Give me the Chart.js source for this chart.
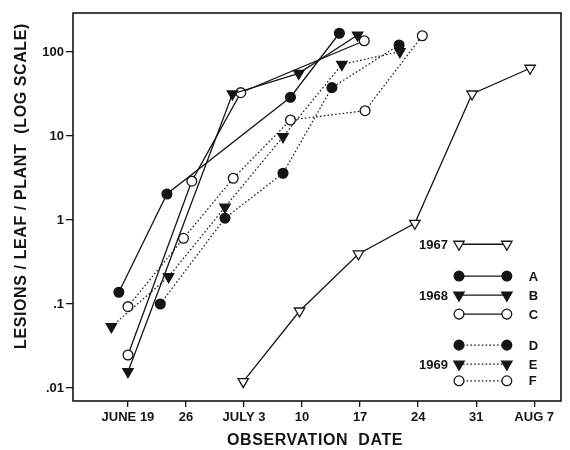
<!DOCTYPE html>
<html><head><meta charset="utf-8">
<script src="https://cdn.jsdelivr.net/npm/chart.js"></script>
<style>html,body{margin:0;padding:0;background:#fff}#wrap{width:570px;height:450px}</style>
</head><body><div id="wrap"><canvas id="c" width="570" height="450"></canvas></div>
<script>
// ---- data (x = day counted from May 31, so June 19 = 19, July 3 = 33 ...) ----
const tickDays = [19, 26, 33, 40, 47, 54, 61, 68];
const tickLabels = ['JUNE 19', '26', 'JULY 3', '10', '17', '24', '31', 'AUG 7'];
const yTickValues = [0.01, 0.1, 1, 10, 100];
const yTickLabels = ['.01', '.1', '1', '10', '100'];

const days1967 = [32.9, 39.7, 46.8, 53.6, 60.5, 67.5];
const vals1967 = [0.0119, 0.0825, 0.394, 0.913, 31.6, 64];
const daysA = [17.9, 23.7, 38.6, 44.5];
const valsA = [0.138, 2.04, 28.9, 167];
const daysB = [19.0, 31.6, 39.6, 46.7];
const valsB = [0.0156, 31.6, 55.7, 159];
const daysC = [19.0, 26.7, 32.6, 47.5];
const valsC = [0.0247, 2.9, 32.8, 136];
const daysD = [22.9, 30.7, 37.7, 43.6, 51.7];
const valsD = [0.1, 1.05, 3.6, 37.6, 121];
const daysE = [17.0, 23.9, 30.7, 37.7, 44.8, 51.8];
const valsE = [0.0537, 0.211, 1.42, 9.8, 71, 101];
const daysF = [19.0, 25.7, 31.7, 38.6, 47.6, 54.5];
const valsF = [0.093, 0.605, 3.14, 15.5, 20, 156];

const xTitle = 'OBSERVATION  DATE';
const yTitle = 'LESIONS / LEAF / PLANT  (LOG SCALE)';
const legendRows = [
  { year: '1967', letter: '',  marker: 'tri',  filled: false, dotted: false },
  { year: '',     letter: 'A', marker: 'circ', filled: true,  dotted: false },
  { year: '1968', letter: 'B', marker: 'tri',  filled: true,  dotted: false },
  { year: '',     letter: 'C', marker: 'circ', filled: false, dotted: false },
  { year: '',     letter: 'D', marker: 'circ', filled: true,  dotted: true },
  { year: '1969', letter: 'E', marker: 'tri',  filled: true,  dotted: true },
  { year: '',     letter: 'F', marker: 'circ', filled: false, dotted: true }
];

const INK = '#151515';
const FONT = "'Liberation Sans', Arial, sans-serif";
const DOT = [1.6, 2.2];

function pts(d, v) { return d.map((x, i) => ({ x: x, y: v[i] })); }
function ds(label, d, v, marker, filled, dotted) {
  return {
    label: label, data: pts(d, v),
    borderColor: INK, borderWidth: dotted ? 1.2 : 1.3,
    borderDash: dotted ? DOT : [],
    pointStyle: marker === 'tri' ? 'triangle' : 'circle',
    pointRotation: marker === 'tri' ? 180 : 0,
    pointRadius: marker === 'tri' ? 6 : 4.9,
    pointHoverRadius: marker === 'tri' ? 6 : 4.9,
    pointBackgroundColor: filled ? INK : '#fff',
    pointBorderColor: INK, pointBorderWidth: 1.3,
    tension: 0, fill: false
  };
}

const datasets = [
  ds('1967', days1967, vals1967, 'tri', false, false),
  ds('A', daysA, valsA, 'circ', true, false),
  ds('B', daysB, valsB, 'tri', true, false),
  ds('C', daysC, valsC, 'circ', false, false),
  ds('D', daysD, valsD, 'circ', true, true),
  ds('E', daysE, valsE, 'tri', true, true),
  ds('F', daysF, valsF, 'circ', false, true)
];

function drawMarker(ctx, m, filled, x, y) {
  ctx.save();
  ctx.setLineDash([]);
  ctx.lineWidth = 1.3;
  ctx.strokeStyle = INK;
  ctx.fillStyle = filled ? INK : '#fff';
  ctx.beginPath();
  if (m === 'circ') {
    ctx.arc(x, y, 4.9, 0, Math.PI * 2);
  } else {
    const r = 6;
    let rad = Math.PI;
    for (let k = 0; k < 3; k++) {
      const px = x + Math.sin(rad) * r, py = y - Math.cos(rad) * r;
      if (k === 0) ctx.moveTo(px, py); else ctx.lineTo(px, py);
      rad += 2 * Math.PI / 3;
    }
    ctx.closePath();
  }
  ctx.fill(); ctx.stroke();
  ctx.restore();
}

const decor = {
  id: 'decor',
  afterDraw(chart) {
    const { ctx, chartArea: a } = chart;
    ctx.save();
    // frame
    ctx.strokeStyle = INK; ctx.lineWidth = 1.6;
    ctx.strokeRect(a.left, a.top, a.right - a.left, a.bottom - a.top);
    // axis titles
    ctx.fillStyle = INK;
    ctx.font = 'bold 16px ' + FONT;
    ctx.textAlign = 'center'; ctx.textBaseline = 'middle';
    try { ctx.letterSpacing = '0.6px'; } catch (e) {}
    ctx.fillText(xTitle, (a.left + a.right) / 2 - 2, a.bottom + 40);
    ctx.save();
    ctx.translate(a.left - 51, (a.top + a.bottom) / 2 - 21);
    ctx.rotate(-Math.PI / 2);
    ctx.fillText(yTitle, 0, 0);
    ctx.restore();
    try { ctx.letterSpacing = '0px'; } catch (e) {}
    // legend
    const w = a.right - a.left, h = a.bottom - a.top;
    const rowY = [0.596, 0.678, 0.727, 0.776, 0.856, 0.905, 0.948];
    const x1 = a.left + w * 0.791, x2 = a.left + w * 0.889;
    legendRows.forEach((r, i) => {
      const y = a.top + h * rowY[i];
      ctx.strokeStyle = INK; ctx.lineWidth = r.dotted ? 1.2 : 1.3;
      ctx.setLineDash(r.dotted ? DOT : []);
      ctx.beginPath(); ctx.moveTo(x1, y); ctx.lineTo(x2, y); ctx.stroke();
      ctx.setLineDash([]);
      drawMarker(ctx, r.marker, r.filled, x1, y);
      drawMarker(ctx, r.marker, r.filled, x2, y);
      ctx.fillStyle = INK;
      ctx.font = 'bold 13px ' + FONT;
      ctx.textBaseline = 'middle';
      if (r.year) { ctx.textAlign = 'right'; ctx.fillText(r.year, x1 - 11, y + 1); }
      if (r.letter) { ctx.textAlign = 'left'; ctx.fillText(r.letter, x2 + 22, y + 1); }
    });
    ctx.restore();
  }
};

new Chart(document.getElementById('c'), {
  type: 'line',
  data: { datasets: datasets },
  options: {
    responsive: false, animation: false,
    layout: { padding: { left: 0, top: 13, right: 9, bottom: 0 } },
    plugins: { legend: { display: false }, tooltip: { enabled: false } },
    scales: {
      x: {
        type: 'linear', min: 12.37, max: 71.23,
        afterBuildTicks: s => { s.ticks = tickDays.map(v => ({ value: v })); },
        afterFit: s => { s.height = 49; },
        grid: { display: true, drawOnChartArea: false, drawTicks: true, tickLength: 6, color: INK, lineWidth: 1.3 },
        border: { display: false },
        ticks: {
          autoSkip: false, maxRotation: 0, padding: 3, color: INK,
          font: { family: FONT, size: 13, weight: 'bold' },
          callback: (v) => { const i = tickDays.indexOf(v); return i >= 0 ? tickLabels[i] : ''; }
        },
        title: { display: false }
      },
      y: {
        type: 'logarithmic', min: 0.0070, max: 291,
        afterBuildTicks: s => { s.ticks = yTickValues.map(v => ({ value: v })); },
        afterFit: s => { s.width = 73; },
        grid: { display: true, drawOnChartArea: false, drawTicks: true, tickLength: 7, color: INK, lineWidth: 1.3 },
        border: { display: false },
        ticks: {
          autoSkip: false, padding: 2, color: INK,
          font: { family: FONT, size: 13, weight: 'bold' },
          callback: (v) => { const i = yTickValues.findIndex(t => Math.abs(t - v) / t < 1e-6); return i >= 0 ? yTickLabels[i] : ''; }
        },
        title: { display: false }
      }
    }
  },
  plugins: [decor]
});
</script>
</body></html>
